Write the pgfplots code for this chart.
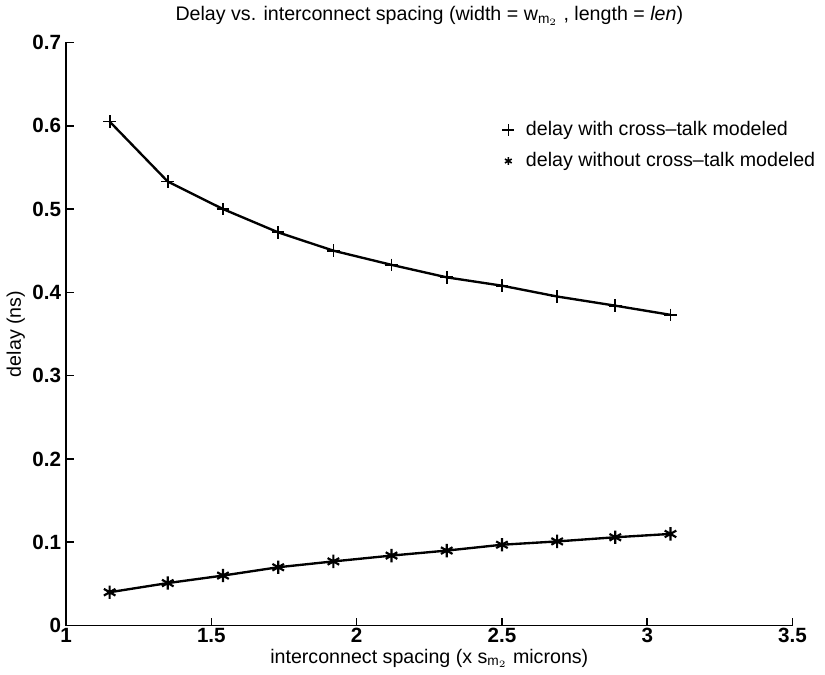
\documentclass[border=0pt]{standalone}
\usepackage{pgfplots}
\pgfplotsset{compat=1.18}
\usepackage{fontspec}
\setmainfont{Liberation Sans}
\begin{document}
\begin{tikzpicture}
\begin{axis}[
  scale only axis,
  width=370pt, height=297pt,
  xmin=1, xmax=3.5, ymin=0, ymax=0.7,
  axis x line*=bottom, axis y line*=left,
  axis line style={line width=0.9pt},
  xtick={1,1.5,2,2.5,3,3.5},
  ytick={0,0.1,0.2,0.3,0.4,0.5,0.6,0.7},
  xticklabels={1,1.5,2,2.5,3,3.5},
  yticklabels={0,0.1,0.2,0.3,0.4,0.5,0.6,0.7},
  tick align=inside,
  major tick length=4pt,
  tick style={line width=0.8pt, black},
  ticklabel style={font=\fontsize{10.5}{12}\selectfont\bfseries},
  xticklabel style={yshift=2pt},
  yticklabel style={xshift=1pt},
  label style={font=\fontsize{10}{12}\selectfont},
  xlabel={interconnect spacing (x s$_{\mathrm{m}_2}$ microns)},
  ylabel={delay (ns)},
  xlabel style={yshift=4pt},
  ylabel style={yshift=-3pt},
  title={Delay vs. interconnect spacing (width = w$_{\mathrm{m}_2}$ , length = \textit{len})},
  title style={font=\fontsize{10}{12}\selectfont, yshift=-1pt},
  legend style={draw=none, fill=none, at={(axis cs:2.48,0.615)}, anchor=north west,
    font=\fontsize{10}{12}\selectfont, row sep=3pt},
  legend cell align=left,
]
\addlegendimage{only marks, mark=+, mark size=3pt, black, line width=0.8pt}
\addlegendentry{\hspace{4pt}delay with cross--talk modeled}
\addlegendimage{only marks, mark=asterisk, mark size=2pt, black, line width=0.8pt}
\addlegendentry{\hspace{4pt}delay without cross--talk modeled}
\addplot[black, line width=1.2pt, mark=+, mark size=3.2pt, mark options={line width=0.9pt}, forget plot] coordinates {
(1.15,0.605) (1.35,0.533) (1.54,0.500) (1.73,0.472) (1.92,0.450) (2.12,0.433)
(2.31,0.418) (2.50,0.408) (2.69,0.395) (2.89,0.384) (3.08,0.373)};
\addplot[black, line width=1.2pt, mark=asterisk, mark size=3.4pt, mark options={line width=1.1pt}, forget plot] coordinates {
(1.15,0.040) (1.35,0.051) (1.54,0.060) (1.73,0.070) (1.92,0.077) (2.12,0.084)
(2.31,0.090) (2.50,0.097) (2.69,0.101) (2.89,0.106) (3.08,0.110)};
\end{axis}
\end{tikzpicture}
\end{document}
